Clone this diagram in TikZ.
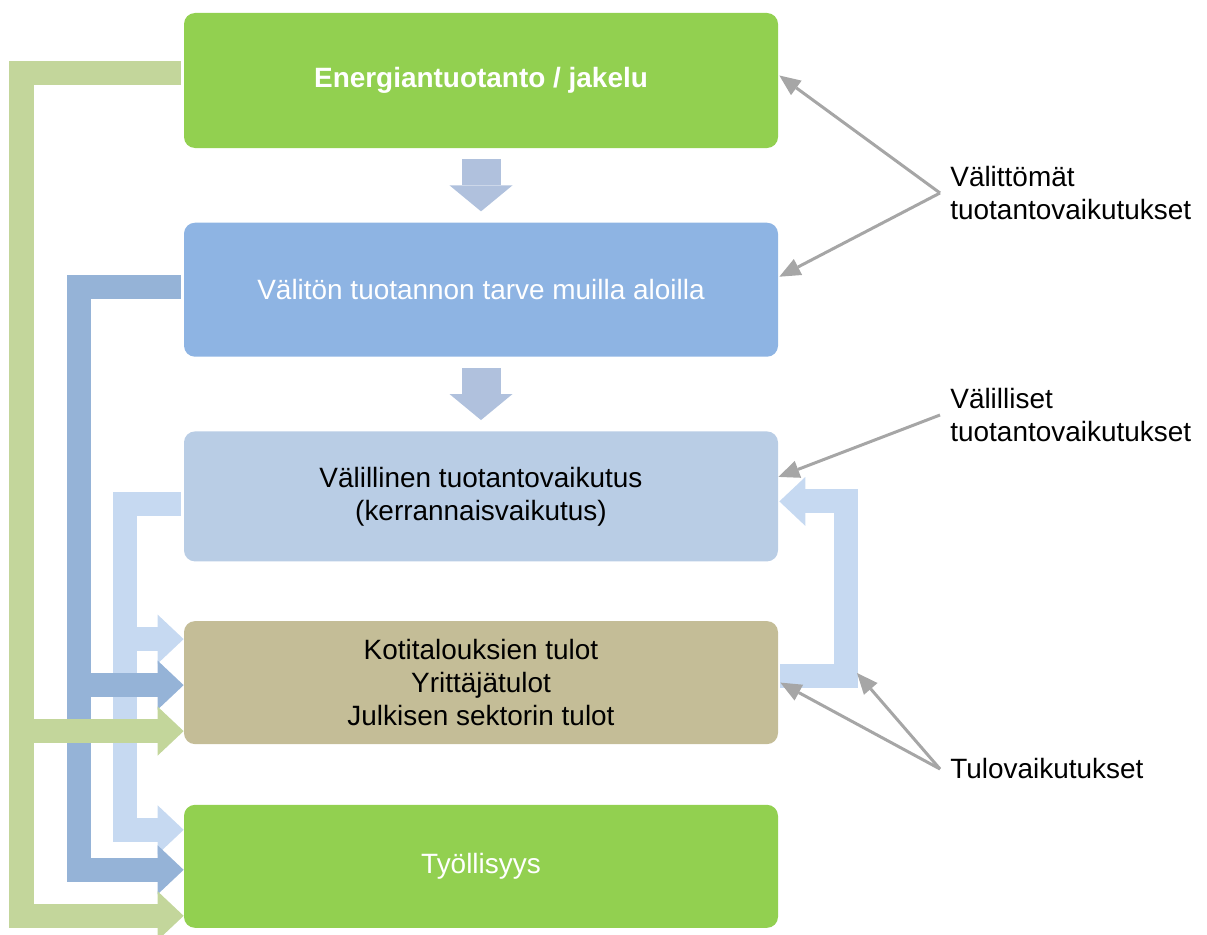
\documentclass[tikz,border=0pt]{standalone}
\usepackage{fontspec}
\setmainfont{Liberation Sans}
\usetikzlibrary{positioning,arrows.meta}
\definecolor{boxgreen}{HTML}{92D050}
\definecolor{boxblue}{HTML}{8EB4E3}
\definecolor{boxlight}{HTML}{B9CDE5}
\definecolor{boxtan}{HTML}{C4BD97}
\definecolor{bandgreen}{HTML}{C3D69B}
\definecolor{bandblue}{HTML}{95B3D7}
\definecolor{bandlight}{HTML}{C6D9F1}
\definecolor{downblue}{HTML}{B0C1DD}
\definecolor{pointgray}{HTML}{A6A6A6}
\newcommand{\boxfont}{\fontsize{15.9}{18.8}\selectfont}
\tikzstyle{box} = [rectangle, rounded corners=0.22cm, minimum width=11.88cm,
    align=center, font=\boxfont]
\tikzstyle{band} = [line width=0.48cm,
    -{Triangle[length=0.52cm, width=0.98cm, line width=0pt]}]
\tikzstyle{down} = [draw=downblue, line width=0.78cm,
    -{Triangle[length=0.52cm, width=1.26cm, line width=0pt]}]
\tikzstyle{pointer} = [draw=pointgray, line width=0.06cm,
    -{Triangle[length=0.42cm, width=0.36cm, line width=0pt]}]
\tikzstyle{note} = [anchor=west, align=left, inner sep=0.2cm, font=\boxfont]

\begin{document}
\begin{tikzpicture}[auto, node distance=1.48cm]
\useasboundingbox (0,0) rectangle (24.14,-18.68);

\node [box, fill=boxgreen, text=white, minimum height=2.7cm, font=\boxfont\bfseries] (energia) at (9.62,-1.61) {Energiantuotanto / jakelu};
\node [box, fill=boxblue, text=white, minimum height=2.68cm, below=of energia] (valiton) {V\"alit\"on tuotannon tarve muilla aloilla};
\node [box, fill=boxlight, minimum height=2.6cm, below=of valiton] (valillinen) {V\"alillinen tuotantovaikutus\\(kerrannaisvaikutus)};
\node [box, fill=boxtan, minimum height=2.46cm, below=1.18cm of valillinen] (tulot) {Kotitalouksien tulot\\Yritt\"aj\"atulot\\Julkisen sektorin tulot};
\node [box, fill=boxgreen, text=white, minimum height=2.46cm, below=1.2cm of tulot] (tyo) {Ty\"ollisyys};

\draw [down] ([yshift=-0.22cm]energia.south) -- ([yshift=0.22cm]valiton.north);
\draw [down] ([yshift=-0.22cm]valiton.south) -- ([yshift=0.22cm]valillinen.north);

\coordinate (railg) at (0.43,0);
\coordinate (railb) at (1.57,0);
\coordinate (raill) at (2.5,0);
\coordinate (railr) at (16.91,0);

\coordinate (g4) at ([yshift=-0.97cm]tulot.west);
\coordinate (g5) at ([yshift=-0.99cm]tyo.west);
\coordinate (b4) at ([yshift=-0.05cm]tulot.west);
\coordinate (b5) at ([yshift=-0.07cm]tyo.west);
\coordinate (l4) at ([yshift=0.87cm]tulot.west);
\coordinate (l5) at ([yshift=0.73cm]tyo.west);
\coordinate (r3) at ([shift={(0.02,-0.1)}]valillinen.east);

\draw [band, bandlight] ([shift={(-0.06,-0.16)}]valillinen.west) -| (raill |- l5) -- (l5);
\draw [band, bandlight] ([shift={(-0.06,-0.16)}]valillinen.west) -| (raill |- l4) -- (l4);
\draw [band, bandblue] ([shift={(-0.06,0.06)}]valiton.west) -| (railb |- b5) -- (b5);
\draw [band, bandblue] ([shift={(-0.06,0.06)}]valiton.west) -| (railb |- b4) -- (b4);
\draw [band, bandgreen] ([shift={(-0.06,0.14)}]energia.west) -| (railg |- g5) -- (g5);
\draw [band, bandgreen] ([shift={(-0.06,0.14)}]energia.west) -| (railg |- g4) -- (g4);
\draw [band, bandlight] ([shift={(0.04,0.13)}]tulot.east) -| (railr |- r3) -- (r3);

\node [note] (valit) at (18.8,-3.86) {V\"alitt\"om\"at\\tuotantovaikutukset};
\node [note] (valil) at (18.8,-8.3) {V\"alilliset\\tuotantovaikutukset};
\node [note] (tulov) at (18.8,-15.38) {Tulovaikutukset};
\coordinate (kulma) at (17.14,-13.46);

\draw [pointer] (valit.west) -- ([shift={(0.02,0.1)}]energia.east);
\draw [pointer] (valit.west) -- ([shift={(0.02,0.26)}]valiton.east);
\draw [pointer] (valil.west) -- ([yshift=0.39cm]valillinen.east);
\draw [pointer] (tulov.west) -- ([xshift=0.04cm]tulot.east);
\draw [pointer] (tulov.west) -- (kulma);

\end{tikzpicture}
\end{document}
